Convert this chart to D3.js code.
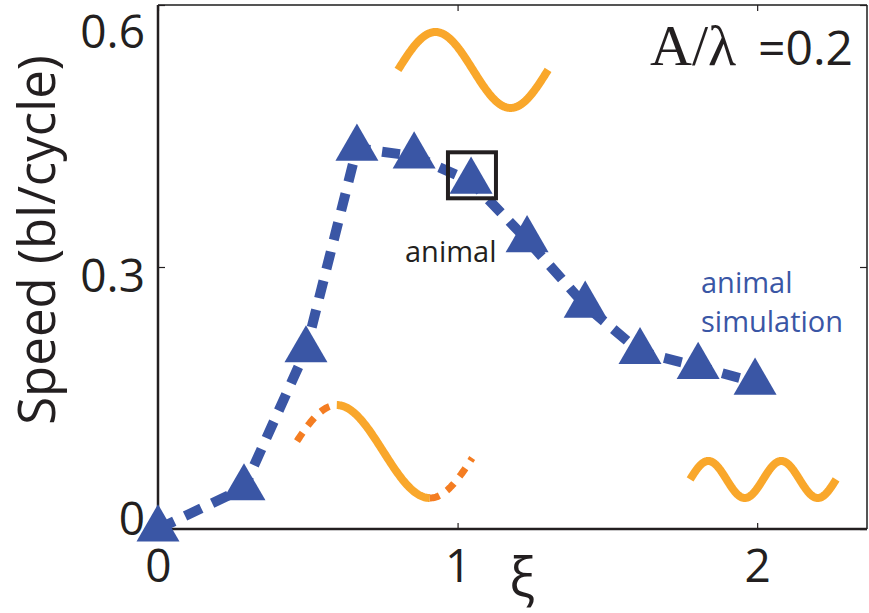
<!DOCTYPE html>
<html>
<head>
<meta charset="utf-8">
<script src="https://cdn.jsdelivr.net/npm/d3@7"></script>
<style>
  html, body { margin: 0; padding: 0; background: #fff; }
  svg { display: block; }
  text { font-family: "Open Sans", "Noto Sans", sans-serif; }
</style>
</head>
<body>
<svg id="chart" width="869" height="613"></svg>
<script>
// ---- data ----
const xi = [0, 0.287, 0.494, 0.664, 0.855, 1.045, 1.232, 1.426, 1.609, 1.803, 1.993];
const speed = [0, 0.047, 0.205, 0.436, 0.427, 0.398, 0.331, 0.256, 0.203, 0.186, 0.168];
const animalPoint = [1.048, 0.405];
const xTicks = [0, 1, 2];
const yTicks = [0, 0.3, 0.6];
const yTickLabels = ["0", "0.3", "0.6"];
const xTickLabels = ["0", "1", "2"];
// waveform icons (start x at phase ph0, wavelength, midline, amplitude in data units)
const waveTop = {x0: 0.801, ph0: 0, lambda: 0.501, mid: 0.5256, amp: 0.0435};
const waveMid = {x0: 0.464, ph0: 13, lambda: 0.621, mid: 0.0887, amp: 0.0532};
const waveRight = {x0: 1.776, ph0: 0, lambda: 0.2437, mid: 0.0567, amp: 0.0212};

const svg = d3.select("#chart");
const x = d3.scaleLinear().domain([0, 2.37]).range([158, 868]);
const y = d3.scaleLinear().domain([0, 0.6]).range([529, 5]);

const blue = "#3a56a5", orange = "#f9a72b", orangeDark = "#f47d22", ink = "#231f20";

// frame
svg.append("line").attr("x1", x(0)).attr("x2", 867).attr("y1", 5).attr("y2", 5)
  .attr("stroke", "#555").attr("stroke-width", 2);
svg.append("line").attr("x1", 867).attr("x2", 867).attr("y1", 5).attr("y2", 529)
  .attr("stroke", "#555").attr("stroke-width", 2);

// x axis bottom
const gx = svg.append("g").attr("transform", `translate(0,${y(0)})`)
  .call(d3.axisBottom(x).tickValues(xTicks).tickSize(-6).tickFormat((d, i) => xTickLabels[i]));
gx.select(".domain").attr("stroke", ink).attr("stroke-width", 2.5).attr("d", `M${x(0)},0H867`);
gx.selectAll(".tick line").attr("stroke", ink).attr("stroke-width", 1.2);
gx.selectAll(".tick text").attr("fill", ink).attr("font-size", 46).attr("y", 53).attr("dy", 0);
// x axis top ticks
const gxt = svg.append("g").attr("transform", `translate(0,5)`)
  .call(d3.axisTop(x).tickValues(xTicks).tickSize(-6).tickFormat(""));
gxt.select(".domain").remove();
gxt.selectAll(".tick line").attr("stroke", ink).attr("stroke-width", 1.2);

// y axis left
const gy = svg.append("g").attr("transform", `translate(${x(0)},0)`)
  .call(d3.axisLeft(y).tickValues(yTicks).tickSize(-7).tickFormat((d, i) => yTickLabels[i]));
gy.select(".domain").attr("stroke", ink).attr("stroke-width", 2.5).attr("d", "M0,5V529");
gy.selectAll(".tick line").attr("stroke", ink).attr("stroke-width", 1.2);
gy.selectAll(".tick text").attr("fill", ink).attr("font-size", 46).attr("x", -13)
  .attr("dy", d => d === 0.6 ? 42 : d === 0 ? 5 : 24);
// y axis right ticks
const gyr = svg.append("g").attr("transform", `translate(867,0)`)
  .call(d3.axisRight(y).tickValues(yTicks).tickSize(-7).tickFormat(""));
gyr.select(".domain").remove();
gyr.selectAll(".tick line").attr("stroke", ink).attr("stroke-width", 1.2);

// axis titles
svg.append("text").attr("transform", "translate(55,240) rotate(-90)")
  .attr("text-anchor", "middle").attr("font-size", 51).attr("fill", ink)
  .text("Speed (bl/cycle)");
svg.append("text").attr("x", 522).attr("y", 597).attr("text-anchor", "middle")
  .attr("font-size", 54).attr("fill", ink).text("ξ");

// title
svg.append("text").attr("x", 650).attr("y", 65).attr("fill", ink)
  .style("font-family", "'Liberation Serif', 'Times New Roman', serif")
  .attr("font-size", 58).text("A/λ");
svg.append("text").attr("x", 853).attr("y", 65).attr("fill", ink)
  .attr("text-anchor", "end").attr("font-size", 48).text("=0.2");

// waves
function wavePts(w, p0, p1) {
  return d3.range(p0, p1 + 0.001, 2).map(ph => [
    w.x0 + (ph - w.ph0) / 360 * w.lambda,
    w.mid + w.amp * Math.sin(ph * Math.PI / 180)
  ]);
}
const wl = d3.line().x(d => x(d[0])).y(d => y(d[1])).curve(d3.curveLinear);
svg.append("path").attr("d", wl(wavePts(waveTop, 0, 360)))
  .attr("fill", "none").attr("stroke", orange).attr("stroke-width", 8);
svg.append("path").attr("d", wl(wavePts(waveRight, 0, 720)))
  .attr("fill", "none").attr("stroke", orange).attr("stroke-width", 8);
svg.append("path").attr("d", wl(wavePts(waveMid, 90, 270)))
  .attr("fill", "none").attr("stroke", orange).attr("stroke-width", 8);
svg.append("path").attr("d", wl(wavePts(waveMid, 13, 90)))
  .attr("fill", "none").attr("stroke", orangeDark).attr("stroke-width", 7)
  .attr("stroke-dasharray", "10 9");
svg.append("path").attr("d", wl(wavePts(waveMid, 270, 353)))
  .attr("fill", "none").attr("stroke", orangeDark).attr("stroke-width", 7)
  .attr("stroke-dasharray", "10 9");

// dashed data line
const pts = xi.map((d, i) => [d, speed[i]]);
svg.append("path").attr("d", d3.line().x(d => x(d[0])).y(d => y(d[1]))(pts))
  .attr("fill", "none").attr("stroke", blue).attr("stroke-width", 10)
  .attr("stroke-dasharray", "18 12");

// triangles
svg.selectAll(".tri").data(pts).enter().append("path")
  .attr("class", "tri")
  .attr("transform", d => `translate(${x(d[0])},${y(d[1])})`)
  .attr("d", d3.symbol().type(d3.symbolTriangle).size(800))
  .attr("fill", blue);

// animal marker
svg.append("rect")
  .attr("x", x(animalPoint[0]) - 24).attr("y", y(animalPoint[1]) - 23)
  .attr("width", 48).attr("height", 46)
  .attr("fill", "none").attr("stroke", ink).attr("stroke-width", 4);

// annotations
svg.append("text").attr("x", 405).attr("y", 262).attr("font-size", 29).attr("fill", ink).text("animal");
const ann = svg.append("text").attr("x", 701).attr("font-size", 29).attr("fill", blue);
ann.append("tspan").attr("x", 701).attr("y", 293).text("animal");
ann.append("tspan").attr("x", 701).attr("y", 332).text("simulation");
</script>
</body>
</html>
